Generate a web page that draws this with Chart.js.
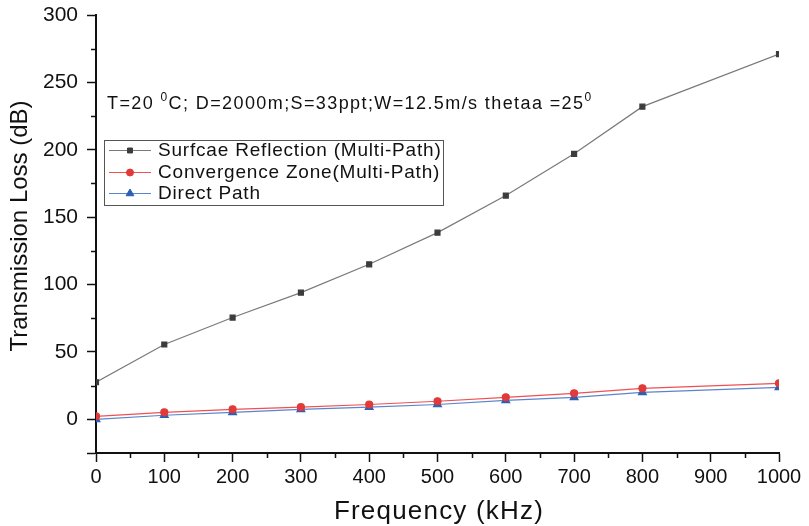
<!DOCTYPE html>
<html>
<head>
<meta charset="utf-8">
<script src="https://cdn.jsdelivr.net/npm/chart.js@4.4.0/dist/chart.umd.min.js"></script>
<style>
  html, body { margin: 0; padding: 0; background: #fff; }
  #wrap { width: 809px; height: 526px; }
</style>
</head>
<body>
<div id="wrap"><canvas id="myChart" width="809" height="526"></canvas></div>
<script>
// data
const freq = [0, 100, 200, 300, 400, 500, 600, 700, 800, 1000];
const surfaceReflection = [27.5, 55.5, 75.5, 94, 115, 138.5, 166, 197, 232, 271];
const convergenceZone = [2.2, 5.2, 7.4, 9, 11, 13.4, 16.3, 19.3, 23, 26.7];
const directPath = [0, 3, 5.2, 7.4, 9, 11, 14, 16.3, 20, 23.7];

const seriesNames = ['Surfcae Reflection (Multi-Path)', 'Convergence Zone(Multi-Path)', 'Direct Path'];
const xMinorTicks = [50, 150, 250, 350, 450, 550, 650, 750, 850, 950];
const yMinorTicks = [25, 75, 125, 175, 225, 275];
const xTitle = 'Frequency (kHz)';
const yTitle = 'Transmission Loss (dB)';

const FONT = 'Arial, "Liberation Sans", sans-serif';

function toPoints(ys) {
    return ys.map((y, i) => ({ x: freq[i], y: y }));
}

// minor ticks, axis titles, inline legend box and the annotation line
const extras = {
    id: 'extras',
    afterDraw(chart) {
        const ctx = chart.ctx;
        const xs = chart.scales.x, ys = chart.scales.y;
        const area = chart.chartArea;
        ctx.save();
        ctx.strokeStyle = '#111';
        ctx.lineWidth = 1.5;
        xMinorTicks.forEach(v => {
            const px = Math.round(xs.getPixelForValue(v)) + 0.5;
            ctx.beginPath();
            ctx.moveTo(px, area.bottom);
            ctx.lineTo(px, area.bottom + 5);
            ctx.stroke();
        });
        yMinorTicks.forEach(v => {
            const py = Math.round(ys.getPixelForValue(v)) + 0.5;
            ctx.beginPath();
            ctx.moveTo(area.left, py);
            ctx.lineTo(area.left - 5, py);
            ctx.stroke();
        });

        // axis titles
        ctx.fillStyle = '#111';
        ctx.textAlign = 'center';
        ctx.textBaseline = 'middle';
        ctx.font = '26px ' + FONT;
        ctx.letterSpacing = '1.2px';
        ctx.fillText(xTitle, 439, 512);
        ctx.save();
        ctx.translate(20, 226);
        ctx.rotate(-Math.PI / 2);
        ctx.font = '24px ' + FONT;
        ctx.letterSpacing = '0px';
        ctx.fillText(yTitle, 0, 0);
        ctx.restore();

        // annotation
        ctx.textBaseline = 'alphabetic';
        ctx.textAlign = 'left';
        ctx.letterSpacing = '1.4px';
        const parts = [['T=20 ', false], ['0', true], ['C; D=2000m;S=33ppt;W=12.5m/s thetaa =25', false], ['0', true]];
        let tx = 107;
        const ty = 109;
        parts.forEach(([t, sup]) => {
            ctx.font = (sup ? '12px ' : '18px ') + FONT;
            ctx.fillText(t, tx, sup ? ty - 8 : ty);
            tx += ctx.measureText(t).width;
        });

        // legend
        const lx = 104, ly = 140, lw = 339, lh = 65;
        ctx.letterSpacing = '0.8px';
        ctx.strokeStyle = '#555';
        ctx.lineWidth = 1;
        ctx.strokeRect(lx + 0.5, ly + 0.5, lw, lh);
        const rows = [150, 172, 193];
        chart.data.datasets.forEach((ds, i) => {
            const y = rows[i];
            ctx.strokeStyle = ds.borderColor;
            ctx.lineWidth = 1;
            ctx.beginPath();
            ctx.moveTo(109, y + 0.5);
            ctx.lineTo(151, y + 0.5);
            ctx.stroke();
            ctx.fillStyle = ds.pointBackgroundColor;
            ctx.strokeStyle = ds.pointBorderColor;
            Chart.helpers.drawPoint(ctx, {
                pointStyle: ds.pointStyle,
                radius: ds.pointRadius,
                borderWidth: 1
            }, 130, y + 0.5);
            ctx.fillStyle = '#111';
            ctx.font = '19px ' + FONT;
            ctx.textBaseline = 'middle';
            ctx.fillText(ds.label, 158, y + 1);
        });
        ctx.restore();
    }
};

const lineSet = (label, ys, line, mark, style, r) => ({
    label: label,
    data: toPoints(ys),
    borderColor: line,
    backgroundColor: mark,
    pointBackgroundColor: mark,
    pointBorderColor: mark,
    borderWidth: 1.2,
    pointStyle: style,
    pointRadius: r,
    pointHoverRadius: r,
    tension: 0,
    fill: false
});

const config = {
    type: 'line',
    data: {
        datasets: [
            lineSet(seriesNames[0], surfaceReflection, '#7a7a7a', '#3c3c3c', 'rect', 3.5),
            lineSet(seriesNames[1], convergenceZone, '#f05050', '#e03a3a', 'circle', 3.5),
            lineSet(seriesNames[2], directPath, '#5a85cc', '#2b5fb3', 'triangle', 4.5)
        ]
    },
    options: {
        responsive: false,
        animation: false,
        layout: { padding: { top: 15, right: 30, bottom: 0, left: 0 } },
        plugins: {
            legend: { display: false },
            tooltip: { enabled: false }
        },
        scales: {
            x: {
                type: 'linear',
                min: 0,
                max: 1000,
                afterFit: s => { s.height = 73; s.paddingLeft = 0; s.paddingRight = 0; },
                ticks: {
                    stepSize: 100,
                    color: '#111',
                    padding: 3,
                    maxRotation: 0,
                    font: { family: FONT, size: 20 },
                    callback: v => String(v)
                },
                grid: { drawOnChartArea: false, tickLength: 9, tickWidth: 1.5, color: '#111' },
                border: { display: true, width: 2, color: '#111' }
            },
            y: {
                min: -25,
                max: 300,
                afterFit: s => { s.width = 96; s.paddingTop = 0; s.paddingBottom = 0; },
                ticks: {
                    stepSize: 50,
                    color: '#111',
                    padding: 9,
                    font: { family: FONT, size: 21 },
                    callback: v => (v % 50 === 0 ? v : '')
                },
                grid: { drawOnChartArea: false, tickLength: 9, tickWidth: 1.5, color: '#111' },
                border: { display: true, width: 2, color: '#111' }
            }
        }
    },
    plugins: [extras]
};

window.myChart = new Chart(document.getElementById('myChart').getContext('2d'), config);
</script>
</body>
</html>
